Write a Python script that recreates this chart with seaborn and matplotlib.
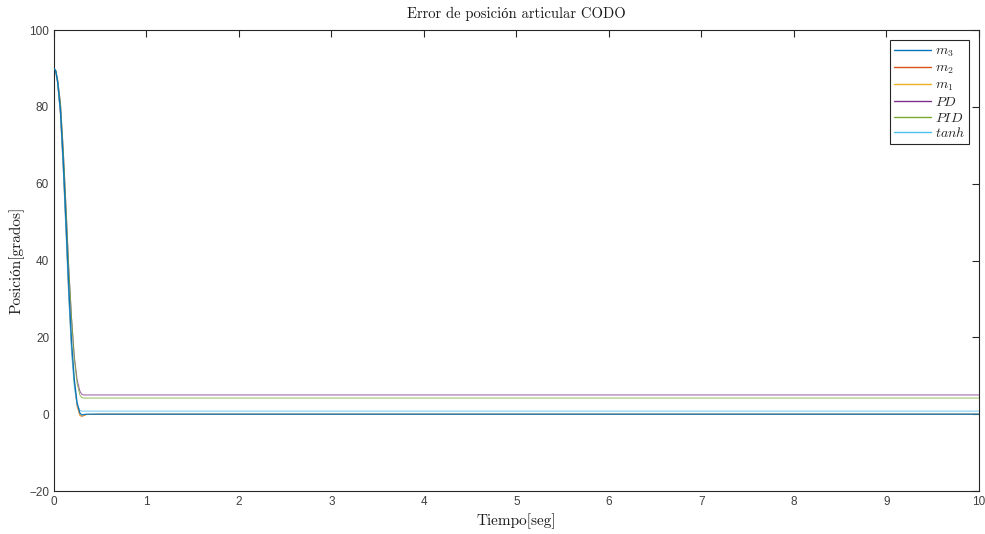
import numpy as np
import pandas as pd
import matplotlib
matplotlib.use("Agg")
import matplotlib.pyplot as plt
import seaborn as sns

# Sampled joint-error trajectories (degrees) for each controller
t = [0.0, 0.02, 0.04, 0.07, 0.10, 0.13, 0.16, 0.19, 0.22, 0.25, 0.28, 0.30, 0.32, 0.35, 0.50, 10.0]
m3 = [90, 89.2, 86.5, 79, 66, 50, 33, 19, 9, 3, 0.3, -0.2, -0.1, 0.0, 0.0, 0.0]
m2 = [90, 89.0, 86.0, 78, 64, 48, 31, 17, 8, 2, -0.3, -0.6, -0.4, -0.1, 0.0, 0.0]
m1 = [90, 89.1, 86.2, 78.5, 65, 49, 32, 18, 8.5, 2.5, -0.2, -0.5, -0.3, -0.1, 0.0, 0.0]
PD = [90, 89.5, 87.0, 81, 69, 54, 38, 25, 15, 9, 6.0, 5.2, 5.0, 5.0, 5.0, 5.0]
PID = [90, 89.5, 87.0, 81, 69, 54, 38, 25, 14.5, 8, 5.0, 4.3, 4.2, 4.2, 4.2, 4.2]
tanh = [90, 89.0, 86.0, 78, 64, 47, 30, 16, 7, 2.5, 1.0, 0.8, 0.8, 0.8, 0.8, 0.8]

labels = [r"$m_3$", r"$m_2$", r"$m_1$", r"$PD$", r"$PID$", r"$tanh$"]
series = [m3, m2, m1, PD, PID, tanh]
colors = ["#0072BD", "#D95319", "#EDB120", "#7E2F8E", "#77AC30", "#4DBEEE"]

x_ticks = list(range(0, 11))
y_ticks = list(range(-20, 101, 20))

df = pd.concat(
    [pd.DataFrame({"t": t, "e": s, "ctrl": lab}) for lab, s in zip(labels, series)],
    ignore_index=True,
)

sns.set_style("white")
plt.rcParams["mathtext.fontset"] = "cm"
plt.rcParams["font.family"] = ["Liberation Sans", "DejaVu Sans"]

fig = plt.figure(figsize=(9.85, 5.34), dpi=100)
ax = fig.add_axes([0.0548, 0.0805, 0.9391, 0.8633])

sns.lineplot(data=df, x="t", y="e", hue="ctrl", hue_order=labels,
             palette=dict(zip(labels, colors)), linewidth=0.7, alpha=0.8,
             ax=ax, estimator=None, sort=False, legend=False)

# keep the m3 trace drawn above the others
for ln in ax.lines:
    if len(ln.get_ydata()) == len(m3) and np.allclose(ln.get_ydata(), m3):
        ln.set_zorder(3)
        ln.set_linewidth(0.9)
        ln.set_alpha(0.95)

ax.set_xlim(0, 10)
ax.set_ylim(-20, 100)
ax.set_xticks(x_ticks)
ax.set_yticks(y_ticks)
ax.tick_params(direction="in", length=5, width=0.8, colors="#262626",
               labelsize=8.5, top=True, right=True, labelcolor="#404040")
for sp in ax.spines.values():
    sp.set_visible(True)
    sp.set_color("#262626")
    sp.set_linewidth(0.8)

serif = ["cmr10", "Liberation Serif", "DejaVu Serif"]
ax.set_title("Error de posición articular CODO", family=serif, fontsize=10.5,
             color="#1a1a1a", pad=9)
ax.set_xlabel("Tiempo[seg]", family=serif, fontsize=11, color="#1a1a1a", labelpad=4)
ax.set_ylabel("Posición[grados]", family=serif, fontsize=11, color="#1a1a1a", labelpad=3)

handles = [plt.Line2D([], [], color=c, linewidth=1.0) for c in colors]
leg = ax.legend(handles, labels, loc="upper right", fontsize=10, frameon=True,
                fancybox=False, edgecolor="#262626", framealpha=1, borderpad=0.3,
                handlelength=2.6, handletextpad=0.3, labelspacing=0.12,
                borderaxespad=0.7)
leg.get_frame().set_linewidth(0.8)

fig.savefig("out.png", dpi=100)
